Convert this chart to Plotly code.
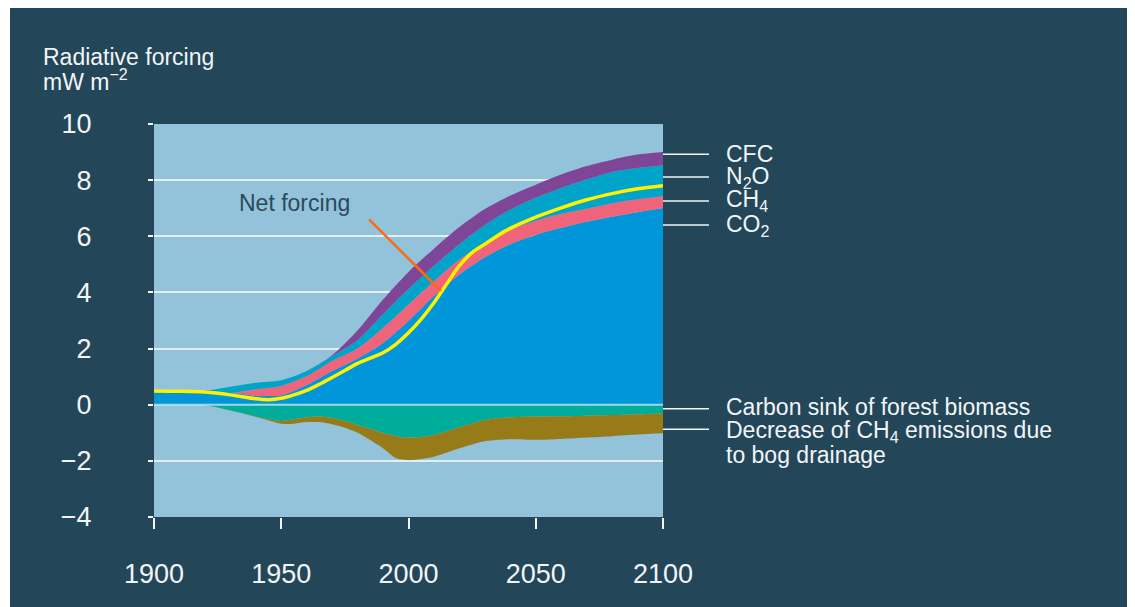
import plotly.graph_objects as go

# ---- data ----
pos_years = [1900, 1910, 1920, 1930, 1935, 1940, 1950, 1960, 1970, 1980, 1990,
             2000, 2010, 2020, 2030, 2040, 2050, 2060, 2070, 2080, 2090, 2100]
co2 = [0.48, 0.47, 0.45, 0.42, 0.38, 0.32, 0.34, 0.70, 1.20, 1.65, 2.20,
       2.98, 3.87, 4.64, 5.25, 5.72, 6.05, 6.30, 6.52, 6.70, 6.86, 7.01]
ch4 = [0, 0, 0, 0, 0.10, 0.23, 0.33, 0.32, 0.36, 0.35, 0.54,
       0.59, 0.53, 0.53, 0.50, 0.50, 0.50, 0.50, 0.46, 0.48, 0.46, 0.42]
n2o = [0, 0.01, 0.05, 0.22, 0.23, 0.23, 0.20, 0.18, 0.17, 0.30, 0.48,
       0.55, 0.55, 0.55, 0.65, 0.73, 0.82, 0.92, 1.04, 1.11, 1.11, 1.10]
cfc = [0, 0, 0, 0, 0, 0, 0, 0, 0.03, 0.35, 0.53,
       0.61, 0.61, 0.61, 0.57, 0.50, 0.47, 0.48, 0.48, 0.44, 0.48, 0.47]

neg_years = [1900, 1910, 1920, 1930, 1940, 1945, 1950, 1955, 1960, 1965, 1970, 1975,
             1980, 1990, 1995, 2000, 2005, 2010, 2020, 2030, 2040, 2050, 2060,
             2070, 2080, 2090, 2100]
forest_sink = [0, 0, -0.02, -0.20, -0.42, -0.52, -0.58, -0.52, -0.45, -0.42, -0.47, -0.58,
               -0.72, -1.00, -1.12, -1.17, -1.15, -1.08, -0.80, -0.55, -0.45, -0.42, -0.41,
               -0.39, -0.37, -0.34, -0.31]
bog_ch4 = [0, 0, 0, -0.01, -0.02, -0.04, -0.10, -0.16, -0.17, -0.20, -0.23, -0.24,
           -0.28, -0.55, -0.78, -0.80, -0.78, -0.77, -0.75, -0.75, -0.78, -0.83, -0.81,
           -0.78, -0.75, -0.72, -0.71]

net_years = [1900, 1910, 1920, 1930, 1940, 1945, 1950, 1955, 1960, 1965, 1970, 1975,
             1980, 1985, 1990, 1995, 2000, 2005, 2010, 2015, 2020, 2025, 2030, 2035,
             2040, 2050, 2060, 2070, 2080, 2090, 2100]
net = [0.49, 0.48, 0.45, 0.35, 0.21, 0.18, 0.23, 0.35, 0.51, 0.73, 0.97, 1.22,
       1.47, 1.66, 1.85, 2.15, 2.56, 3.05, 3.63, 4.30, 4.95, 5.42, 5.72, 6.02,
       6.28, 6.68, 7.01, 7.30, 7.52, 7.69, 7.80]

x_ticks = [1900, 1950, 2000, 2050, 2100]
y_ticks = [-4, -2, 0, 2, 4, 6, 8, 10]

# ---- style ----
FONT = "Liberation Sans"
BG = "#234659"
PLOT_BG = "#93c3da"
TXT = "#f2f5f7"

fig = go.Figure()

def area(x, y, name, color, group):
    fig.add_trace(go.Scatter(
        x=x, y=y, name=name, stackgroup=group, mode="lines",
        line=dict(width=0, shape="spline", smoothing=0.8, color=color),
        fillcolor=color, hoverinfo="skip"))

area(pos_years, co2, "CO2", "#0096d9", "pos")
area(pos_years, ch4, "CH4", "#ef647a", "pos")
area(pos_years, n2o, "N2O", "#00a4c8", "pos")
area(pos_years, cfc, "CFC", "#7f4698", "pos")
area(neg_years, forest_sink, "Carbon sink of forest biomass", "#00ad9b", "neg")
area(neg_years, bog_ch4, "Decrease of CH4 emissions", "#987b19", "neg")

fig.add_trace(go.Scatter(
    x=net_years, y=net, name="Net forcing", mode="lines",
    line=dict(color="#fff200", width=3.5, shape="spline", smoothing=0.8),
    hoverinfo="skip"))

# page offset (body margin) and geometry in reference pixels
OFF = 8
W, H = 1135 - OFF, 607 - OFF
L, R, T, B = 154 - OFF, 663 - OFF, 124 - OFF, 517 - OFF
pw, ph = R - L, B - T

def px(xpix):
    return (xpix - OFF - L) / pw

def py(ypix):
    return (B - (ypix - OFF)) / ph

shapes = []
# zero line on top of areas
shapes.append(dict(type="line", xref="paper", yref="y", x0=0, x1=1, y0=0, y1=0,
                   line=dict(color="#a4d7e6", width=2), layer="above"))
# pointer from the "Net forcing" label
shapes.append(dict(type="line", xref="x", yref="y", x0=1984.5, y0=6.6, x1=2012.7, y1=4.06,
                   line=dict(color="#ff6a10", width=2.5)))
# thin white strip at the left edge
shapes.append(dict(type="rect", xref="paper", yref="paper", x0=px(OFF - 2), x1=px(10),
                   y0=py(700), y1=py(-5), fillcolor="white", line=dict(width=0), layer="below"))

right_labels = [
    ("CFC", 8.92, 8.92),
    ("N<sub>2</sub>O", 8.11, 8.11),
    ("CH<sub>4</sub>", 7.26, 7.26),
    ("CO<sub>2</sub>", 6.40, 6.40),
    ("Carbon sink of forest biomass", -0.08, -0.14),
    ("Decrease of CH<sub>4</sub> emissions due", -0.95, -0.87),
]
annotations = []
for text, ty, ly in right_labels:
    shapes.append(dict(type="line", xref="paper", yref="y", x0=1.0, x1=px(709),
                       y0=ly, y1=ly, line=dict(color=TXT, width=1.5)))
    annotations.append(dict(text=text, xref="paper", yref="y", x=px(724), y=ty,
                            xanchor="left", yanchor="middle", showarrow=False,
                            font=dict(family=FONT, size=23, color=TXT)))
annotations.append(dict(text="to bog drainage", xref="paper", yref="y", x=px(724), y=-1.79,
                        xanchor="left", yanchor="middle", showarrow=False,
                        font=dict(family=FONT, size=23, color=TXT)))

annotations.append(dict(text="Net forcing", xref="x", yref="y", x=1955.2, y=7.2,
                        xanchor="center", yanchor="middle", showarrow=False,
                        font=dict(family=FONT, size=23, color="#2c4a5c")))
annotations.append(dict(text="Radiative forcing", xref="paper", yref="paper",
                        x=px(41), y=py(57.5), xanchor="left", yanchor="middle",
                        showarrow=False, font=dict(family=FONT, size=23, color=TXT)))
annotations.append(dict(text="mW m<sup>−2</sup>", xref="paper", yref="paper",
                        x=px(41), y=py(80), xanchor="left", yanchor="middle",
                        showarrow=False, font=dict(family=FONT, size=23, color=TXT)))

fig.update_layout(
    width=W, height=H,
    margin=dict(l=L, r=W - R, t=T, b=H - B, pad=0),
    paper_bgcolor=BG, plot_bgcolor=PLOT_BG,
    showlegend=False,
    shapes=shapes, annotations=annotations,
    font=dict(family=FONT, color=TXT),
)
fig.update_xaxes(range=[1900, 2100], tickvals=x_ticks, ticks="outside", ticklen=11,
                 tickwidth=1.5, tickcolor=TXT, showgrid=False, zeroline=False,
                 showline=False, tickfont=dict(family=FONT, size=27, color=TXT),
                 ticklabelstandoff=22)
fig.update_yaxes(range=[-4, 10], tickvals=y_ticks, ticks="outside", ticklen=5,
                 tickwidth=1.5, tickcolor=TXT, showgrid=True, gridcolor="#e4eff5",
                 gridwidth=1.5, zeroline=False, showline=False,
                 tickfont=dict(family=FONT, size=27, color=TXT),
                 ticklabelstandoff=51)

fig.write_html("out.html")
